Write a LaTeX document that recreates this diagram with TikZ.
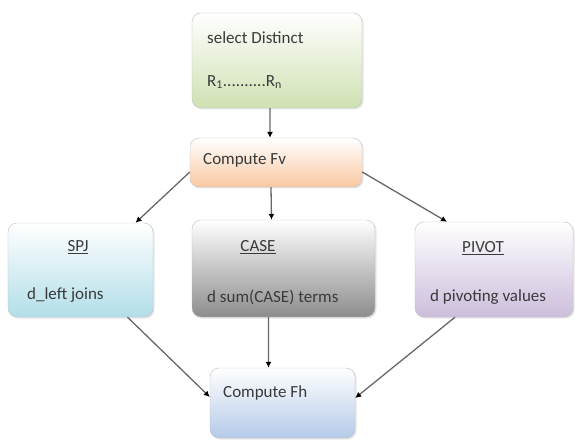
\documentclass[tikz,border=0pt]{standalone}
\usepackage{fontspec}
\setmainfont{Carlito}
\usetikzlibrary{arrows.meta,shadows}
\definecolor{boxline}{HTML}{BFBFBF}
\definecolor{txt}{HTML}{3A3A3A}
\definecolor{lnk}{HTML}{686868}
\tikzset{box/.style = {draw=boxline, rounded corners=9bp, shading=axis, top color=white, inner sep=0pt,
                       drop shadow={opacity=0.2, shadow xshift=1.5bp, shadow yshift=-1.5bp}},
         label/.style = {text=txt, inner sep=0pt, font=\fontsize{17bp}{20bp}\selectfont},
         link/.style = {draw=lnk, line width=1.3bp, -{Latex[length=6bp,width=6bp,color=black]}}}
\begin{document}
\begin{tikzpicture}[x=1bp,y=-1bp]
    \useasboundingbox (0,0) rectangle (575,441);
    \node[box, bottom color={rgb,255:red,208;green,225;blue,178}, minimum width=170bp, minimum height=95bp](sel)at(277,60.5){};
    \node[box, bottom color={rgb,255:red,250;green,200;blue,162}, minimum width=172bp, minimum height=49bp](fv)at(276,162.5){};
    \node[box, bottom color={rgb,255:red,178;green,222;blue,233}, minimum width=145bp, minimum height=94bp](spj)at(80.5,270){};
    \node[box, bottom color={rgb,255:red,140;green,140;blue,140}, minimum width=183bp, minimum height=97bp](case)at(283.5,268.5){};
    \node[box, bottom color={rgb,255:red,204;green,190;blue,220}, minimum width=158bp, minimum height=95bp](pivot)at(494,269.5){};
    \node[box, bottom color={rgb,255:red,180;green,202;blue,232}, minimum width=145bp, minimum height=70bp](fh)at(282.5,403){};
    \node[label, anchor=west](seltxt)at(207,38){select Distinct};
    \node[label, anchor=west](rtxt)at(207,82){R\textsubscript{1}..........R\textsubscript{n}};
    \node[label, anchor=west](fvtxt)at(203,160){Compute Fv};
    \node[label](spjtitle)at(78,247){\underline{SPJ}};
    \node[label, anchor=west](spjtxt)at(27,295){d\_left joins};
    \node[label](casetitle)at(258,247){\underline{CASE}};
    \node[label, anchor=west](casetxt)at(207,297){d sum(CASE) terms};
    \node[label](pivottitle)at(483,248){\underline{PIVOT}};
    \node[label, anchor=west](pivottxt)at(430,297){d pivoting values};
    \node[label, anchor=west](fhtxt)at(223,393){Compute Fh};
    \draw[link]([xshift=-7bp]sel.south)--([xshift=-6bp]fv.north);
    \draw[link]([yshift=-9.5bp]fv.west)--([xshift=55bp]spj.north);
    \draw[link]([xshift=-5bp]fv.south)--([xshift=-12bp]case.north);
    \draw[link]([yshift=-9.5bp]fv.east)--([xshift=-47bp]pivot.north);
    \draw[link]([xshift=47bp]spj.south)--([yshift=6bp]fh.west);
    \draw[link]([xshift=-15bp]case.south)--([xshift=-14bp]fh.north);
    \draw[link]([xshift=-39bp]pivot.south)--([yshift=5bp]fh.east);
\end{tikzpicture}
\end{document}
